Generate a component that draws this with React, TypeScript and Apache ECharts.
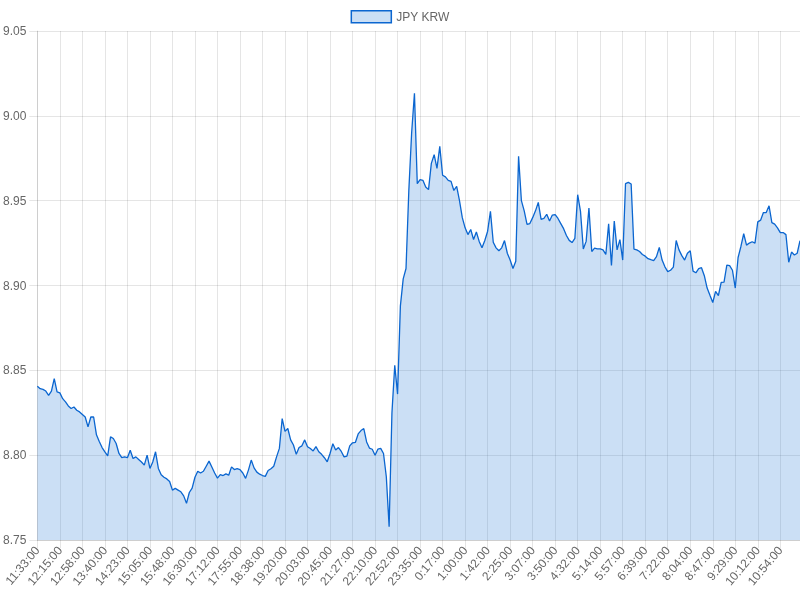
import React, { useEffect, useRef } from "react";
import * as echarts from "echarts";

const seriesName = "JPY KRW";

const tickLabels: string[] = [
  "11:33:00", "12:15:00", "12:58:00", "13:40:00", "14:23:00", "15:05:00", "15:48:00",
  "16:30:00", "17:12:00", "17:55:00", "18:38:00", "19:20:00", "20:03:00", "20:45:00",
  "21:27:00", "22:10:00", "22:52:00", "23:35:00", "0:17:00", "1:00:00", "1:42:00",
  "2:25:00", "3:07:00", "3:50:00", "4:32:00", "5:14:00", "5:57:00", "6:39:00",
  "7:22:00", "8:04:00", "8:47:00", "9:29:00", "10:12:00", "10:54:00",
];

// points between two shown labels
const pointsPerTick = 8;

const jpyKrw: number[] = [
  8.8406, 8.8392, 8.8388, 8.8378, 8.8353, 8.8378, 8.8451, 8.8373,
  8.8367, 8.8333, 8.8314, 8.829, 8.8275, 8.8284, 8.8265, 8.8255,
  8.824, 8.8225, 8.8167, 8.8225, 8.8225, 8.812, 8.808, 8.8045,
  8.802, 8.7996, 8.8108, 8.8098, 8.8069, 8.801, 8.7985, 8.799,
  8.7985, 8.8029, 8.798, 8.799, 8.7975, 8.796, 8.7941, 8.8,
  8.7922, 8.796, 8.802, 8.7922, 8.7885, 8.787, 8.786, 8.7845,
  8.7794, 8.7804, 8.7794, 8.7784, 8.776, 8.7716, 8.778, 8.7806,
  8.787, 8.7905, 8.7895, 8.7905, 8.7935, 8.7965, 8.793, 8.7895,
  8.7865, 8.7885, 8.788, 8.789, 8.7882, 8.7931, 8.7915, 8.792,
  8.7915, 8.7895, 8.7863, 8.7912, 8.7971, 8.7925, 8.79, 8.7888,
  8.788, 8.7875, 8.791, 8.792, 8.7935, 8.799, 8.804, 8.8216,
  8.814, 8.8157, 8.809, 8.806, 8.8005, 8.8045, 8.8055, 8.809,
  8.805, 8.8039, 8.8025, 8.805, 8.802, 8.8005, 8.7985, 8.7961,
  8.801, 8.8067, 8.803, 8.8045, 8.8022, 8.799, 8.7995, 8.8055,
  8.8073, 8.8075, 8.8125, 8.8145, 8.8157, 8.8078, 8.8042, 8.8035,
  8.8, 8.8035, 8.804, 8.801, 8.7873, 8.7578, 8.825, 8.853,
  8.836, 8.888, 8.9039, 8.91, 8.956, 8.99, 9.0133, 8.96,
  8.9624, 8.962, 8.958, 8.9565, 8.972, 8.9771, 8.969, 8.982,
  8.965, 8.964, 8.962, 8.9614, 8.956, 8.9584, 8.95, 8.94,
  8.934, 8.93, 8.933, 8.9271, 8.9315, 8.926, 8.9222, 8.9265,
  8.932, 8.9437, 8.9255, 8.9222, 8.9205, 8.9222, 8.9265, 8.919,
  8.915, 8.91, 8.9143, 8.9761, 8.95, 8.944, 8.936, 8.9365,
  8.94, 8.944, 8.949, 8.939, 8.9395, 8.942, 8.938, 8.9415,
  8.9418, 8.9395, 8.9365, 8.9335, 8.9295, 8.9266, 8.9253, 8.9278,
  8.9535, 8.9437, 8.9215, 8.926, 8.9457, 8.92, 8.922, 8.9216,
  8.9216, 8.921, 8.9183, 8.9363, 8.9118, 8.938, 8.921, 8.927,
  8.915, 8.96, 8.9608, 8.9598, 8.9215, 8.921, 8.92, 8.9183,
  8.9173, 8.9158, 8.9152, 8.9147, 8.917, 8.9225, 8.915, 8.911,
  8.9082, 8.909, 8.9108, 8.9265, 8.921, 8.9176, 8.915, 8.919,
  8.9205, 8.9085, 8.9075, 8.91, 8.9105, 8.9058, 8.8985, 8.8942,
  8.89, 8.8965, 8.8941, 8.9018, 8.902, 8.912, 8.9117, 8.909,
  8.8985, 8.9165, 8.923, 8.9305, 8.9238, 8.925, 8.9258, 8.925,
  8.9375, 8.9385, 8.943, 8.943, 8.947, 8.9371, 8.9362, 8.934,
  8.9312, 8.9312, 8.93, 8.9137, 8.9197, 8.918, 8.919, 8.9264,
];

const yMin = 8.75;
const yMax = 9.05;
const yStep = 0.05;

function buildCategories(): string[] {
  const cats: string[] = [];
  for (let t = 0; t < tickLabels.length; t++) {
    const [h, m] = tickLabels[t].split(":").map(Number);
    for (let j = 0; j < pointsPerTick; j++) {
      if (cats.length >= jpyKrw.length) return cats;
      if (j === 0) {
        cats.push(tickLabels[t]);
      } else {
        const total = (h * 60 + m + Math.round((j * 42.5) / pointsPerTick)) % 1440;
        const hh = Math.floor(total / 60);
        const mm = total % 60;
        cats.push(`${hh}:${String(mm).padStart(2, "0")}:00`);
      }
    }
  }
  return cats;
}

const FONT = "'Liberation Sans', Arial, Helvetica, sans-serif";
const GRID = "rgba(0,0,0,0.1)";
const LINE = "#0b66d0";
const FILL = "rgba(54,130,215,0.26)";

export default function App() {
  const ref = useRef<HTMLDivElement>(null);

  useEffect(() => {
    if (!ref.current) return;
    const chart = echarts.init(ref.current, undefined, { renderer: "svg" });
    const categories = buildCategories();
    chart.setOption({
      animation: false,
      legend: {
        show: true,
        top: 10,
        left: "center",
        padding: 0,
        itemWidth: 40,
        itemHeight: 12,
        itemGap: 10,
        icon: "rect",
        itemStyle: { color: FILL, borderColor: LINE, borderWidth: 1.5, opacity: 1 },
        textStyle: { color: "#666", fontSize: 12, fontFamily: FONT },
        data: [seriesName],
      },
      grid: { left: 37, right: 0, top: 31, bottom: 60, containLabel: false },
      xAxis: {
        type: "category",
        data: categories,
        boundaryGap: false,
        axisLine: { show: true, lineStyle: { color: GRID, width: 1 } },
        axisTick: { show: true, length: 8, interval: pointsPerTick - 1, lineStyle: { color: GRID } },
        splitLine: { show: true, interval: pointsPerTick - 1, lineStyle: { color: GRID, width: 1 } },
        axisLabel: {
          interval: pointsPerTick - 1,
          rotate: 50,
          margin: 8,
          color: "#666",
          fontSize: 12,
          fontFamily: FONT,
        },
      },
      yAxis: {
        type: "value",
        min: yMin,
        max: yMax,
        interval: yStep,
        axisLine: { show: true, lineStyle: { color: GRID, width: 1 } },
        axisTick: { show: true, length: 8, lineStyle: { color: GRID } },
        splitLine: { show: true, lineStyle: { color: GRID, width: 1 } },
        axisLabel: {
          margin: 11,
          color: "#666",
          fontSize: 12,
          fontFamily: FONT,
          formatter: (v: number) => v.toFixed(2),
        },
      },
      series: [
        {
          name: seriesName,
          type: "line",
          data: jpyKrw,
          symbol: "none",
          showSymbol: false,
          smooth: false,
          itemStyle: { color: LINE },
          lineStyle: { color: LINE, width: 1.3 },
          areaStyle: { color: FILL, opacity: 1, origin: "start" },
        },
      ],
    });
    return () => chart.dispose();
  }, []);

  return (
    <div
      ref={ref}
      style={{ position: "fixed", left: 0, top: 0, width: 800, height: 600 }}
    />
  );
}
